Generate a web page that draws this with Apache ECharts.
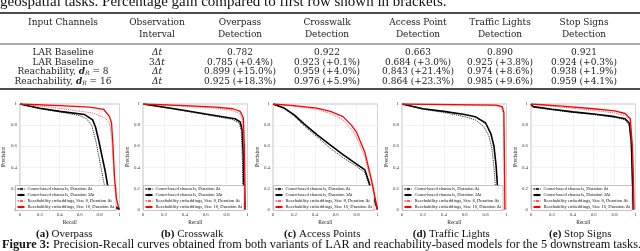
<!DOCTYPE html>
<html><head><meta charset="utf-8">
<script src="https://cdn.jsdelivr.net/npm/echarts@6/dist/echarts.min.js"></script>
<style>html,body{margin:0;padding:0;background:#fff;overflow:hidden}#c{width:640px;height:251px}</style>
</head><body><div id="c"></div><script>
// ---- Table data ----
var tableColumns = ['Overpass', 'Crosswalk', 'Access Point', 'Traffic Lights', 'Stop Signs'];
var rowLabels = ['LAR Baseline', 'LAR Baseline', 'Reachability, {i|d}{s|R} = 8', 'Reachability, {i|d}{s|R} = 16'];
var rowIntervals = ['{it|Δt}', '3{it|Δt}', '{it|Δt}', '{it|Δt}'];
var overpassScores = [0.782, 0.785, 0.899, 0.925];
var overpassGains = [null, 0.4, 15.0, 18.3];
var crosswalkScores = [0.922, 0.923, 0.959, 0.976];
var crosswalkGains = [null, 0.1, 4.0, 5.9];
var accessScores = [0.663, 0.684, 0.843, 0.864];
var accessGains = [null, 3.0, 21.4, 23.3];
var trafficScores = [0.890, 0.925, 0.974, 0.985];
var trafficGains = [null, 3.8, 8.6, 9.6];
var stopScores = [0.921, 0.924, 0.938, 0.959];
var stopGains = [null, 0.3, 1.9, 4.1];

// ---- PR curves: [recall, precision] ----
var seriesNames = ['Count-based channels, Duration Δt', 'Count-based channels, Duration 3Δt',
  'Reachability embeddings, Size 8, Duration Δt', 'Reachability embeddings, Size 16, Duration Δt'];
var panelTitles = ['Overpass', 'Crosswalk', 'Access Points', 'Traffic Lights', 'Stop Signs'];
var panelLetters = ['(a)', '(b)', '(c)', '(d)', '(e)'];

var overpassCountDt = [[0,1],[0.2,0.955],[0.4,0.925],[0.6,0.89],[0.67,0.86],[0.72,0.8],[0.76,0.66],[0.81,0.42],[0.85,0.22],[0.89,0.08],[0.94,0.02],[1,0]];
var overpassCount3Dt = [[0,1],[0.2,0.96],[0.4,0.93],[0.65,0.9],[0.73,0.85],[0.76,0.78],[0.79,0.66],[0.855,0.37],[0.89,0.18],[0.94,0.04],[1,0]];
var overpassReach8 = [[0,1],[0.3,0.97],[0.5,0.945],[0.73,0.915],[0.85,0.87],[0.9,0.82],[0.92,0.7],[0.94,0.4],[0.96,0.15],[0.98,0.04],[1,0]];
var overpassReach16 = [[0,1],[0.4,0.985],[0.7,0.97],[0.84,0.95],[0.9,0.88],[0.92,0.82],[0.935,0.6],[0.95,0.3],[0.97,0.1],[0.99,0.02],[1,0]];

var crosswalkCountDt = [[0,1],[0.3,0.95],[0.6,0.9],[0.85,0.855],[0.92,0.82],[0.94,0.75],[0.95,0.5],[0.955,0.2],[0.96,0]];
var crosswalkCount3Dt = [[0,1],[0.3,0.955],[0.6,0.905],[0.88,0.86],[0.93,0.83],[0.95,0.75],[0.96,0.5],[0.965,0.2],[0.97,0]];
var crosswalkReach8 = [[0,1],[0.4,0.98],[0.7,0.96],[0.85,0.94],[0.92,0.91],[0.95,0.86],[0.965,0.6],[0.97,0.3],[0.975,0]];
var crosswalkReach16 = [[0,1],[0.4,0.985],[0.7,0.97],[0.86,0.955],[0.93,0.93],[0.96,0.87],[0.97,0.6],[0.975,0.3],[0.98,0]];

var accessCountDt = [[0,1],[0.1,0.96],[0.2,0.89],[0.3,0.79],[0.42,0.69],[0.55,0.58],[0.67,0.49],[0.8,0.41],[0.88,0.35],[0.94,0.18],[1,0]];
var accessCount3Dt = [[0,1],[0.1,0.965],[0.2,0.9],[0.3,0.81],[0.42,0.71],[0.55,0.61],[0.67,0.52],[0.8,0.43],[0.88,0.375],[0.94,0.19],[1,0]];
var accessReach8 = [[0,1],[0.2,0.98],[0.42,0.95],[0.55,0.91],[0.67,0.85],[0.75,0.76],[0.8,0.68],[0.88,0.5],[0.94,0.26],[1,0]];
var accessReach16 = [[0,1],[0.2,0.985],[0.42,0.96],[0.55,0.93],[0.67,0.88],[0.75,0.8],[0.8,0.73],[0.88,0.54],[0.94,0.29],[1,0]];

var trafficCountDt = [[0,1],[0.2,0.95],[0.4,0.92],[0.6,0.88],[0.7,0.85],[0.78,0.79],[0.83,0.7],[0.86,0.58],[0.88,0.4],[0.895,0.2],[0.91,0]];
var trafficCount3Dt = [[0,1],[0.2,0.955],[0.4,0.93],[0.6,0.9],[0.7,0.88],[0.8,0.82],[0.85,0.72],[0.88,0.6],[0.9,0.42],[0.915,0.2],[0.93,0]];
var trafficReach8 = [[0,1],[0.5,0.99],[0.9,0.985],[0.95,0.97],[0.97,0.9],[0.975,0.5],[0.98,0]];
var trafficReach16 = [[0,1],[0.5,0.995],[0.9,0.99],[0.96,0.975],[0.975,0.92],[0.98,0.5],[0.985,0]];

var stopCountDt = [[0,1],[0.02,0.97],[0.2,0.945],[0.4,0.92],[0.6,0.9],[0.8,0.875],[0.9,0.85],[0.94,0.8],[0.96,0.6],[0.97,0.3],[0.975,0]];
var stopCount3Dt = [[0,1],[0.02,0.975],[0.2,0.95],[0.4,0.925],[0.6,0.905],[0.8,0.88],[0.9,0.86],[0.94,0.82],[0.96,0.65],[0.97,0.3],[0.978,0]];
var stopReach8 = [[0,1],[0.3,0.97],[0.6,0.94],[0.8,0.915],[0.9,0.89],[0.95,0.84],[0.97,0.6],[0.98,0.3],[0.985,0]];
var stopReach16 = [[0,1],[0.3,0.98],[0.6,0.955],[0.8,0.935],[0.9,0.91],[0.95,0.86],[0.97,0.6],[0.98,0.3],[0.985,0]];

var panels = [
  [overpassCountDt, overpassCount3Dt, overpassReach8, overpassReach16],
  [crosswalkCountDt, crosswalkCount3Dt, crosswalkReach8, crosswalkReach16],
  [accessCountDt, accessCount3Dt, accessReach8, accessReach16],
  [trafficCountDt, trafficCount3Dt, trafficReach8, trafficReach16],
  [stopCountDt, stopCount3Dt, stopReach8, stopReach16]
];
var tableScores = [overpassScores, crosswalkScores, accessScores, trafficScores, stopScores];
var tableGains = [overpassGains, crosswalkGains, accessGains, trafficGains, stopGains];

// ---- layout ----
var SERIF = '"Liberation Serif", "DejaVu Serif", serif';
var TSERIF = '"DejaVu Serif", serif';
var gridLefts = [15, 143, 273, 402, 531];
var gridWidth = 104.5, gridTop = 104, gridHeight = 105.5;
var styles = [
  {color: '#333', type: [1.2, 1], width: 1},
  {color: '#000', type: 'solid', width: 1.6},
  {color: '#f06060', type: [1.2, 1], width: 1},
  {color: '#ff0000', type: 'solid', width: 1.3}
];

var chart = echarts.init(document.getElementById('c'), null, {renderer: 'canvas'});
var grids = [], xAxes = [], yAxes = [], series = [], legends = [], graphics = [];

panels.forEach(function (curves, p) {
  grids.push({left: gridLefts[p], top: gridTop, width: gridWidth, height: gridHeight,
    show: true, borderColor: '#9a9a9a', borderWidth: 0.6, backgroundColor: '#fff'});
  xAxes.push({type: 'value', gridIndex: p, min: 0, max: 1, interval: 0.2,
    name: 'Recall', nameLocation: 'middle', nameGap: 10,
    nameTextStyle: {fontFamily: SERIF, fontSize: 5.5, color: '#222'},
    axisLine: {show: false}, axisTick: {show: false},
    axisLabel: {fontFamily: SERIF, fontSize: 4.8, color: '#333', margin: 2.5},
    splitLine: {show: true, lineStyle: {color: '#e4e4e4', width: 0.5}}});
  yAxes.push({type: 'value', gridIndex: p, min: 0, max: 1, interval: 0.2,
    name: 'Precision', nameLocation: 'middle', nameGap: 11,
    nameTextStyle: {fontFamily: SERIF, fontSize: 5.5, color: '#222'},
    axisLine: {show: false}, axisTick: {show: false},
    axisLabel: {fontFamily: SERIF, fontSize: 4.8, color: '#333', margin: 3},
    splitLine: {show: true, lineStyle: {color: '#e4e4e4', width: 0.5}}});
  curves.forEach(function (d, k) {
    series.push({type: 'line', name: seriesNames[k], xAxisIndex: p, yAxisIndex: p,
      data: d, symbol: 'none', smooth: false, silent: true, animation: false,
      lineStyle: {color: styles[k].color, type: styles[k].type, width: styles[k].width},
      itemStyle: {color: styles[k].color}, z: 2 + k});
  });
  legends.push({data: seriesNames, orient: 'vertical', left: gridLefts[p] + 0.5, top: 185.5,
    itemWidth: 7, itemHeight: 3, itemGap: 1, padding: [1, 2, 1, 1],
    backgroundColor: '#fff', borderColor: '#888', borderWidth: 0.5,
    selectedMode: false,
    textStyle: {fontFamily: SERIF, fontSize: 4.6, color: '#111', padding: [0, 0, 0, -2]}});
  graphics.push({type: 'text', x: gridLefts[p] + gridWidth / 2 - 3, y: 234,
    style: {text: '{b|' + panelLetters[p] + '} ' + panelTitles[p], align: 'center', verticalAlign: 'middle',
      font: '11px ' + SERIF, fill: '#111',
      rich: {b: {fontFamily: SERIF, fontSize: 11, fontWeight: 'bold', fill: '#111'}}}});
});

// ---- table graphics ----
var colX = [63, 157, 240, 327, 418, 500, 584];
var rowY = [53, 62.5, 72, 81.5];
var tblFont = 9;
var rich = {
  i: {fontFamily: TSERIF, fontSize: tblFont, fontStyle: 'italic', fontWeight: 'bold', fill: '#222'},
  s: {fontFamily: TSERIF, fontSize: 6, fontStyle: 'italic', fill: '#222', padding: [3, 0, 0, 0]},
  it: {fontFamily: TSERIF, fontSize: tblFont, fontStyle: 'italic', fill: '#222'}
};
function txt(x, y, s, size) {
  return {type: 'text', x: x, y: y,
    style: {text: s, align: 'center', verticalAlign: 'middle', font: size + 'px ' + TSERIF, fill: '#222', rich: rich}};
}
graphics.push({type: 'text', x: 0, y: 9.5,
  style: {text: 'geospatial tasks. Percentage gain compared to first row shown in brackets.', align: 'left', verticalAlign: 'bottom',
    font: '15px ' + SERIF, fill: '#111'}});
graphics.push({type: 'line', shape: {x1: 0, y1: 13, x2: 640, y2: 13}, style: {stroke: '#111', lineWidth: 1.3}});
graphics.push({type: 'line', shape: {x1: 0, y1: 44, x2: 640, y2: 44}, style: {stroke: '#111', lineWidth: 0.7}});
graphics.push({type: 'line', shape: {x1: 0, y1: 89, x2: 640, y2: 89}, style: {stroke: '#111', lineWidth: 1.3}});
graphics.push(txt(colX[0], 22.5, 'Input Channels', tblFont));
graphics.push(txt(colX[1], 22.5, 'Observation', tblFont));
graphics.push(txt(colX[1], 34.5, 'Interval', tblFont));
tableColumns.forEach(function (c, j) {
  graphics.push(txt(colX[j + 2], 22.5, c, tblFont));
  graphics.push(txt(colX[j + 2], 34.5, 'Detection', tblFont));
});
rowLabels.forEach(function (lab, r) {
  graphics.push(txt(colX[0], rowY[r], lab, tblFont));
  graphics.push(txt(colX[1], rowY[r], rowIntervals[r], tblFont));
  tableScores.forEach(function (sc, j) {
    var g = tableGains[j][r];
    var s = sc[r].toFixed(3) + (g === null ? '' : ' (+' + g.toFixed(1) + '%)');
    graphics.push(txt(colX[j + 2], rowY[r], s, tblFont));
  });
});
graphics.push({type: 'text', x: 2, y: 245,
  style: {text: '{b|Figure 3:} Precision-Recall curves obtained from both variants of LAR and reachability-based models for the 5 downstream tasks.',
    align: 'left', verticalAlign: 'middle', font: '12.3px ' + SERIF, fill: '#111',
    rich: {b: {fontFamily: SERIF, fontSize: 12.3, fontWeight: 'bold', fill: '#111'}}}});

chart.setOption({
  animation: false,
  backgroundColor: '#fff',
  grid: grids, xAxis: xAxes, yAxis: yAxes, series: series, legend: legends,
  graphic: {elements: graphics}
});
</script></body></html>
